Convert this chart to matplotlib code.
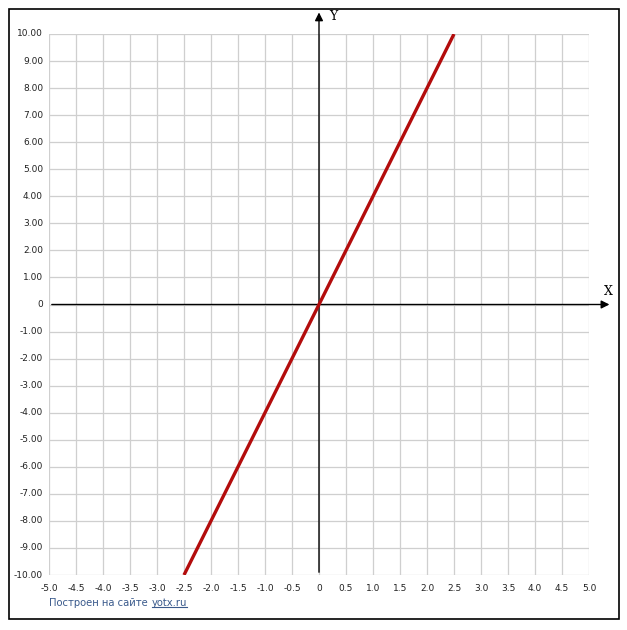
import numpy as np
import matplotlib.pyplot as plt
from matplotlib.patches import Rectangle

# line y = 4x
line_x = [-2.5, 2.5]
line_y = [-10.0, 10.0]

x_ticks = [-5.0, -4.5, -4.0, -3.5, -3.0, -2.5, -2.0, -1.5, -1.0, -0.5, 0.0,
           0.5, 1.0, 1.5, 2.0, 2.5, 3.0, 3.5, 4.0, 4.5, 5.0]
y_ticks = list(range(-10, 11))

W, H = 627, 630
fig = plt.figure(figsize=(W / 100, H / 100), dpi=100)
fig.patch.set_facecolor('white')

# outer frame
fig.add_artist(Rectangle((9 / W, 1 - 619 / H), 610 / W, 610 / H, transform=fig.transFigure,
                         fill=False, edgecolor='black', linewidth=1.2))

ax = fig.add_axes([49 / W, 1 - 575 / H, 540 / W, 541 / H])
ax.set_xlim(-5, 5)
ax.set_ylim(-10, 10)
for s in ax.spines.values():
    s.set_visible(False)
ax.set_xticks(x_ticks)
ax.set_yticks(y_ticks)
ax.grid(True, color='#cfcfcf', linewidth=0.9)
ax.tick_params(length=0, labelbottom=False, labelleft=False)
ax.set_axisbelow(True)

# tick labels
tfont = dict(fontsize=6.5, color='#222222', family='DejaVu Sans')
for xv in x_ticks:
    lab = '0' if xv == 0 else f'{xv:.1f}'
    ax.text(xv, -10.5, lab, ha='center', va='center', clip_on=False, **tfont)
for yv in y_ticks:
    lab = '0' if yv == 0 else f'{yv:.2f}'
    ax.text(-5.11, yv, lab, ha='right', va='center', clip_on=False, **tfont)

# axes with arrows
ax.annotate('', xy=(5.43, 0), xytext=(-5, 0), annotation_clip=False,
            arrowprops=dict(arrowstyle='-|>', color='black', lw=1.0, mutation_scale=12))
ax.annotate('', xy=(0, 10.9), xytext=(0, -10), annotation_clip=False,
            arrowprops=dict(arrowstyle='-|>', color='black', lw=1.0, mutation_scale=12))
ax.text(5.35, 0.48, 'X', family='DejaVu Serif', fontsize=9, ha='center', va='center', clip_on=False)
ax.text(0.26, 10.63, 'Y', family='DejaVu Serif', fontsize=9, ha='center', va='center', clip_on=False)

# the function
ax.plot(line_x, line_y, color='#b30c0c', linewidth=2.4, solid_capstyle='butt', zorder=5)

# footer
t1 = fig.text(49 / W, 1 - 603 / H, 'Построен на сайте', fontsize=7.2, color='#3a5a8c',
              ha='left', va='center')
fig.canvas.draw()
bb = t1.get_window_extent()
t2 = fig.text((bb.x1 + 4) / W, 1 - 603 / H, 'yotx.ru', fontsize=7.2, color='#3a5a8c',
              ha='left', va='center')
fig.canvas.draw()
bb2 = t2.get_window_extent()
fig.add_artist(plt.Line2D([bb2.x0 / W, bb2.x1 / W], [(bb2.y0 + 1) / H, (bb2.y0 + 1) / H],
                          transform=fig.transFigure, color='#3a5a8c', linewidth=0.8))

fig.savefig('out.png', dpi=100)
